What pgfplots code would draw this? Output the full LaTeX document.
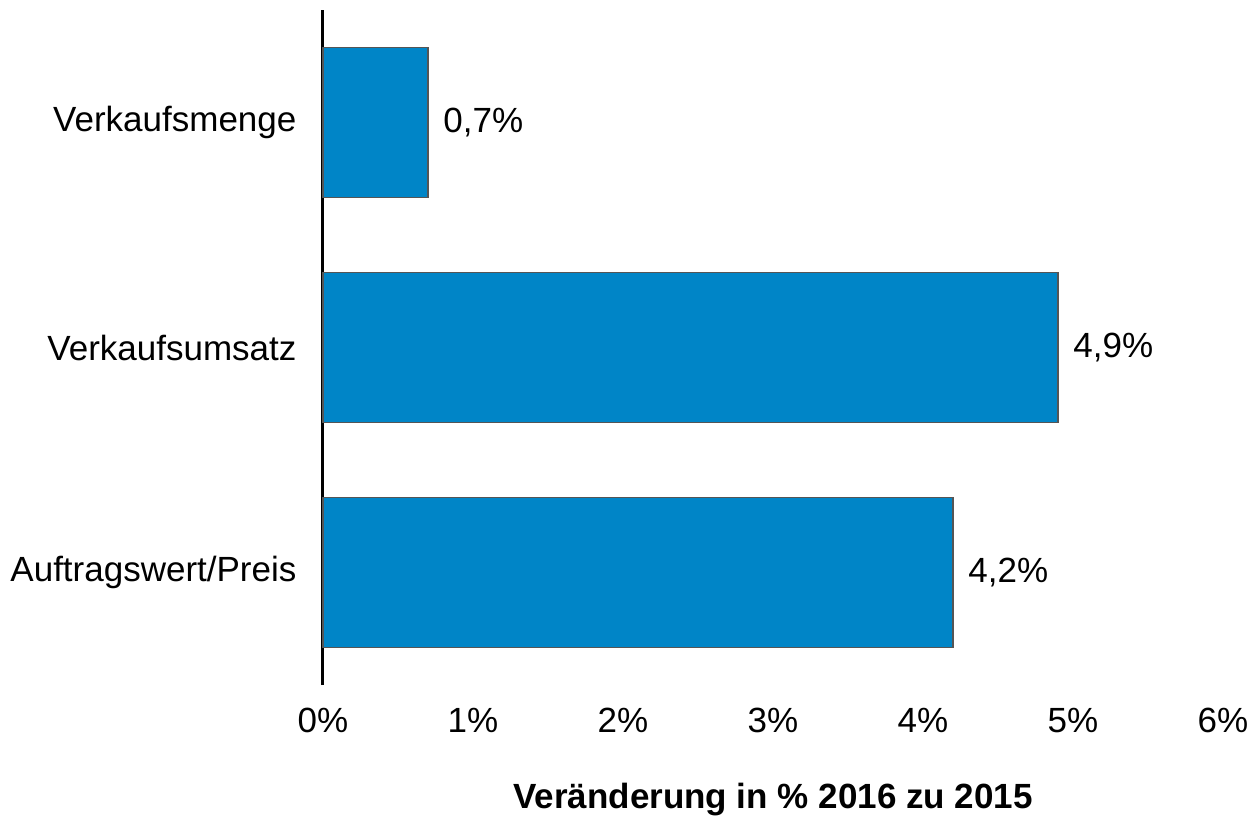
\documentclass[border=0pt]{standalone}
\usepackage{pgfplots}
\pgfplotsset{compat=1.18}
\usepackage{fontspec}
\setmainfont{Liberation Sans}
\definecolor{barblue}{HTML}{0085C7}
\definecolor{bargrey}{HTML}{555555}
\begin{document}
\fontsize{17.5}{21}\selectfont
\begin{tikzpicture}
\begin{axis}[
  at={(0,0)}, anchor=south west,
  scale only axis, width=450pt, height=337.5pt,
  xbar, bar width=75pt,
  xmin=0, xmax=6, ymin=-0.5, ymax=2.5,
  xtick={0,1,2,3,4,5,6},
  xticklabel={\pgfmathprintnumber{\tick}\%},
  /pgf/number format/assume math mode=true,
  ytick={0,1,2},
  yticklabels={Auftragswert/Preis, Verkaufsumsatz, Verkaufsmenge},
  axis lines*=left,
  x axis line style={draw=none},
  y axis line style={black, line width=1.5pt, -},
  tick style={draw=none},
  xticklabel style={anchor=base, yshift=-23.8pt},
  yticklabel style={anchor=east, xshift=-3pt},
  xlabel={Veränderung in \% 2016 zu 2015},
  xlabel style={font=\bfseries, at={(axis description cs:0.5,0)}, anchor=center, yshift=-57.5pt},
  point meta=x,
  nodes near coords={\pgfmathprintnumber[use comma, fixed, fixed zerofill, precision=1, assume math mode=true]{\pgfplotspointmeta}\%},
  every node near coord/.append style={anchor=west, xshift=1.5pt, black},
  clip=false,
]
\addplot[fill=barblue, draw=bargrey, line width=0.8pt] coordinates {(4.2,0) (4.9,1) (0.7,2)};
\end{axis}
\pgfresetboundingbox
\path[use as bounding box] (-161.5pt,-67.5pt) rectangle (464pt,342.5pt);
\end{tikzpicture}
\end{document}
